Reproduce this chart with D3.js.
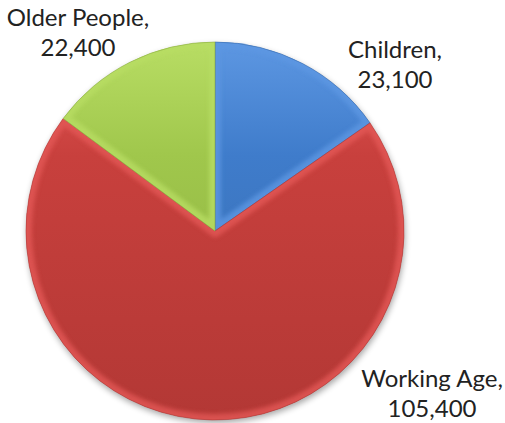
<!DOCTYPE html>
<html>
<head>
<meta charset="utf-8">
<script src="https://cdn.jsdelivr.net/npm/d3@7"></script>
<style>
  body { margin: 0; background: #fff; }
  svg { display: block; }
  text { font-family: Lato, "Liberation Sans", sans-serif; font-size: 24px; fill: #222; }
</style>
</head>
<body>
<script>
////Data
var categories = ["Children", "Working Age", "Older People"] //Slice names, clockwise from 12 o'clock
var values = [23100, 105400, 22400] //Population in each group
var valueLabels = ["23,100", "105,400", "22,400"] //Labels as printed

////Styling
var baseColors = {"Children": "#3f7ccb", "Working Age": "#c8403d", "Older People": "#a0c74c"}
var lightColors = {"Children": "#5d97e2", "Working Age": "#e35856", "Older People": "#b8dd64"}
var darkColors = {"Children": "#3669a8", "Working Age": "#b33835", "Older People": "#88ab3e"}
//Label anchors relative to the pie centre (layout only)
var labelOffset = {"Children": [180, -173], "Working Age": [217, 156], "Older People": [-137, -205]}

var width = 505, height = 423
var cx = 215, cy = 231, radius = 189

var svg = d3.select("body").append("svg").attr("width", width).attr("height", height)
var defs = svg.append("defs")

//Soft blur for the bevel highlight
defs.append("filter").attr("id", "soft").attr("x", "-10%").attr("y", "-10%").attr("width", "120%").attr("height", "120%")
    .append("feGaussianBlur").attr("stdDeviation", 2.2)

//Drop shadow under the pie
var shadow = defs.append("filter").attr("id", "shadow").attr("x", "-20%").attr("y", "-20%").attr("width", "140%").attr("height", "140%")
shadow.append("feGaussianBlur").attr("stdDeviation", 3)

var data = categories.map(function(c, i){ return {name: c, value: values[i], label: valueLabels[i]} })

var pie = d3.pie().sort(null).value(function(d){ return d.value })
var arcs = pie(data)
var arc = d3.arc().innerRadius(0).outerRadius(radius)

//Vertical gradients for each slice
arcs.forEach(function(a, i){
    var g = defs.append("linearGradient").attr("id", "grad" + i)
        .attr("gradientUnits", "userSpaceOnUse")
        .attr("x1", 0).attr("y1", -radius).attr("x2", 0).attr("y2", radius)
    g.append("stop").attr("offset", "0%").attr("stop-color", lightColors[a.data.name])
    g.append("stop").attr("offset", "30%").attr("stop-color", baseColors[a.data.name])
    g.append("stop").attr("offset", "100%").attr("stop-color", darkColors[a.data.name])
    defs.append("clipPath").attr("id", "clip" + i).append("path").attr("d", arc(a))
})

var chart = svg.append("g").attr("transform", "translate(" + cx + "," + cy + ")")

//Shadow
chart.append("circle").attr("cx", 1).attr("cy", 3).attr("r", radius)
    .attr("fill", "#000").attr("opacity", 0.35).attr("filter", "url(#shadow)")

var slices = chart.selectAll(".slice").data(arcs).enter().append("g").attr("class", "slice")

//Slice fill
slices.append("path")
    .attr("d", arc)
    .attr("fill", function(d, i){ return "url(#grad" + i + ")" })

//Inner bevel highlight along every edge
slices.append("g")
    .attr("clip-path", function(d, i){ return "url(#clip" + i + ")" })
    .append("path")
    .attr("d", arc)
    .attr("fill", "none")
    .attr("stroke", function(d){ return lightColors[d.data.name] })
    .attr("stroke-width", 12)
    .attr("stroke-linejoin", "round")
    .attr("opacity", 0.8)
    .attr("filter", "url(#soft)")

//Thin dark edge
slices.append("path")
    .attr("d", arc)
    .attr("fill", "none")
    .attr("stroke", function(d){ return darkColors[d.data.name] })
    .attr("stroke-width", 0.8)
    .attr("stroke-opacity", 0.7)

////Labels
var labels = svg.selectAll(".label").data(arcs).enter().append("text")
    .attr("class", "label")
    .attr("text-anchor", "middle")
    .attr("transform", function(d){
        var o = labelOffset[d.data.name]
        return "translate(" + (cx + o[0]) + "," + (cy + o[1]) + ")"
    })
labels.append("tspan").attr("x", 0).attr("y", 0).text(function(d){ return d.data.name + "," })
labels.append("tspan").attr("x", 0).attr("y", 30).text(function(d){ return d.data.label })
</script>
</body>
</html>
